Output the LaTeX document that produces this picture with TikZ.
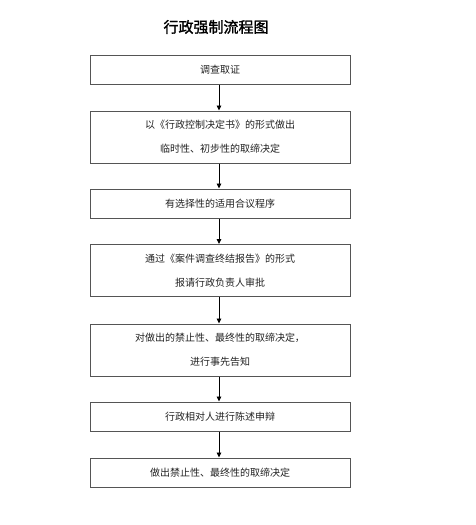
\documentclass[tikz,border=0pt]{standalone}
\usepackage{fontspec}
\newfontfamily\cjk{Noto Sans CJK SC}
\newfontfamily\cjktitle{Noto Sans CJK SC}[FakeBold=1.5]
\usetikzlibrary{arrows.meta}
\definecolor{boxline}{HTML}{555555}
\definecolor{txt}{HTML}{222222}
\begin{document}
\begin{tikzpicture}[x=1pt,y=-1pt,
  stepbox/.style={draw=boxline,line width=1pt,minimum width=260pt,inner sep=0pt,
    text=txt,align=center,font={\cjk\fontsize{10}{24}\selectfont}},
  onebox/.style={stepbox,minimum height=29pt},
  twobox/.style={stepbox,minimum height=52pt},
  flow/.style={draw=black,line width=0.9pt,-{Triangle[length=5pt,width=4.5pt]}}]
\useasboundingbox (0,0) rectangle (476,525);
\node[font={\cjktitle\fontsize{15}{18}\selectfont},text=black] (title) at (216,27) {行政强制流程图};
\node[onebox] (b1) at (220,69.5) {调查取证};
\node[twobox] (b2) at (220,137) {以《行政控制决定书》的形式做出\\临时性、初步性的取缔决定};
\node[onebox] (b3) at (220,203.5) {有选择性的适用合议程序};
\node[twobox] (b4) at (220,270.5) {通过《案件调查终结报告》的形式\\报请行政负责人审批};
\node[twobox] (b5) at (220,350) {对做出的禁止性、最终性的取缔决定，\\进行事先告知};
\node[onebox] (b6) at (220,416.5) {行政相对人进行陈述申辩};
\node[onebox] (b7) at (220,472.5) {做出禁止性、最终性的取缔决定};
\foreach \a/\b in {b1/b2,b2/b3,b3/b4,b4/b5,b5/b6,b6/b7}
  \draw[flow] ([xshift=-1pt]\a.south) -- ([xshift=-1pt]\b.north);
\end{tikzpicture}
\end{document}
